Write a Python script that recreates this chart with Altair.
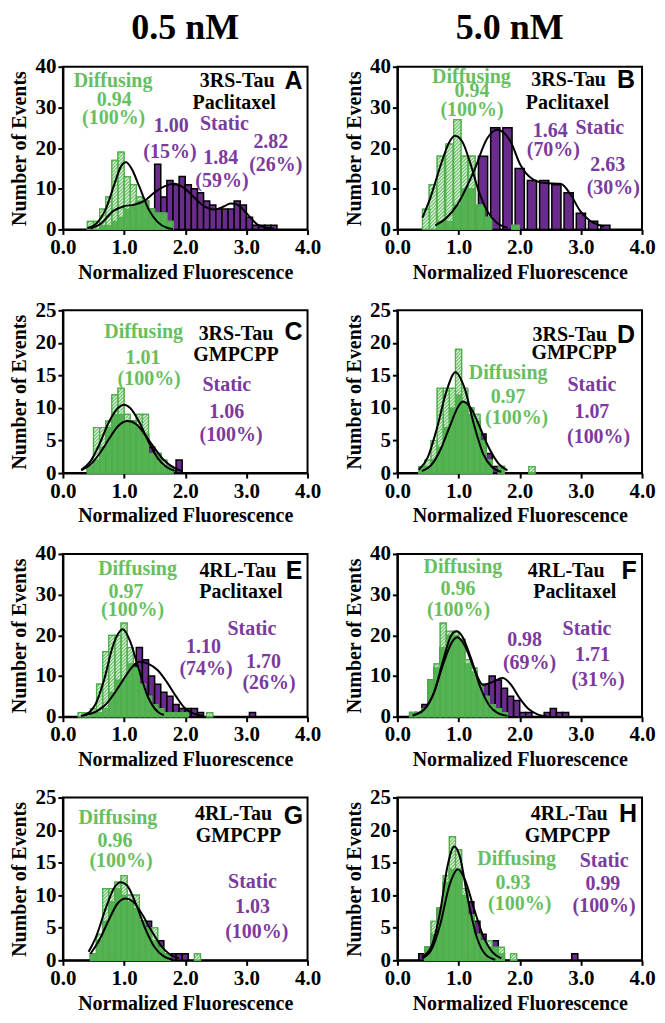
import altair as alt
import pandas as pd

# ---------------- data ----------------
# Panel A : 3RS-Tau, Paclitaxel, 0.5 nM
A_diff_x = [0.45, 0.55, 0.65, 0.75, 0.85, 0.95, 1.05, 1.15, 1.25, 1.35, 1.45, 1.55, 1.65, 1.75]
A_diff_n = [2, 2, 5, 8, 17, 19, 13, 11, 8, 7, 5, 4, 4, 2]
A_stat_x = [0.75, 0.85, 0.95, 1.05, 1.15, 1.25, 1.35, 1.45, 1.55, 1.65, 1.75, 1.85, 1.95, 2.05,
            2.15, 2.25, 2.35, 2.45, 2.55, 2.65, 2.75, 2.85, 2.95, 3.05, 3.15, 3.25, 3.35, 3.45]
A_stat_n = [1, 2, 3, 5, 6, 7, 7, 5, 16, 8, 12, 11, 13, 11, 10, 9, 7, 6, 5, 5, 5, 7, 6, 3, 1, 1, 1, 1]
A_fitd_x = [0.40, 0.55, 0.70, 0.85, 0.95, 1.03, 1.12, 1.25, 1.40, 1.55, 1.70, 1.80]
A_fitd_y = [0.3, 1.5, 5, 11.5, 15.5, 16.5, 15, 10.5, 5, 1.8, 0.4, 0.1]
A_fits_x = [0.45, 0.62, 0.82, 1.0, 1.17, 1.33, 1.49, 1.66, 1.82, 1.98, 2.15, 2.31, 2.47, 2.64,
            2.74, 2.85, 3.02, 3.18, 3.34, 3.45]
A_fits_y = [0.2, 1.4, 4.5, 5.7, 6.1, 7.0, 9.0, 10.6, 11.2, 10.2, 7.8, 5.7, 4.9, 5.7, 6.4, 6.1,
            3.7, 1.2, 0.4, 0.2]

# Panel B : 3RS-Tau, Paclitaxel, 5.0 nM
B_diff_x = [0.47, 0.58, 0.71, 0.85, 0.98, 1.10, 1.21, 1.36, 1.48, 1.93]
B_diff_n = [5, 11, 18, 21, 27, 18, 18, 6, 3, 1]
B_stat_x = [0.8, 1.0, 1.2, 1.4, 1.6, 1.8, 2.0, 2.2, 2.4, 2.6, 2.8, 3.0, 3.2, 3.4]
B_stat_n = [2, 6, 10, 18, 25, 25, 15, 12, 12, 11, 9, 4, 2, 1]
B_fitd_x = [0.41, 0.54, 0.71, 0.84, 0.94, 1.06, 1.20, 1.33, 1.47, 1.63, 1.80]
B_fitd_y = [2.9, 7.8, 15.9, 21.2, 23, 21.6, 15.9, 9.4, 4.5, 1.6, 0.4]
B_fits_x = [0.62, 0.80, 0.98, 1.25, 1.47, 1.63, 1.85, 2.01, 2.18, 2.40, 2.67, 2.83, 2.99, 3.16, 3.38]
B_fits_y = [1, 2.8, 6.1, 14.3, 22.4, 24.5, 21.6, 15.9, 12.7, 11.4, 11.2, 8.6, 4.5, 2, 0.7]

# Panel C : 3RS-Tau, GMPCPP, 0.5 nM
C_diff_x = [0.45, 0.55, 0.65, 0.75, 0.85, 0.95, 1.05, 1.15, 1.25, 1.35, 1.45, 1.55, 1.65, 1.75]
C_diff_n = [1, 7, 7, 8, 12, 13, 9, 8, 9, 9, 3, 3, 2, 1]
C_stat_x = [0.45, 0.55, 0.65, 0.75, 0.85, 0.95, 1.05, 1.15, 1.25, 1.35, 1.45, 1.55, 1.65, 1.75, 1.90]
C_stat_n = [1, 2, 4, 7, 9, 9, 8, 8, 7, 6, 4, 3, 1, 1, 2]
C_fitd_x = [0.30, 0.45, 0.60, 0.75, 0.90, 1.00, 1.10, 1.25, 1.40, 1.55, 1.70, 1.85]
C_fitd_y = [0.5, 1.8, 4.5, 7.8, 10, 10.5, 10, 7.8, 4.8, 2.3, 0.9, 0.3]
C_fits_x = [0.30, 0.45, 0.60, 0.75, 0.90, 1.06, 1.20, 1.35, 1.50, 1.65, 1.80, 1.95]
C_fits_y = [0.4, 1.3, 3, 5.2, 7.2, 8, 7.5, 5.8, 3.8, 2, 0.9, 0.3]

# Panel D : 3RS-Tau, GMPCPP, 5.0 nM
D_diff_x = [0.4, 0.5, 0.6, 0.7, 0.8, 0.9, 1.0, 1.1, 1.2, 1.3, 1.4, 1.5, 1.7, 2.2]
D_diff_n = [1, 2, 5, 13, 13, 13, 19, 13, 10, 9, 5, 2, 1, 1]
D_stat_x = [0.5, 0.6, 0.7, 0.8, 0.9, 1.0, 1.1, 1.2, 1.3, 1.4, 1.5, 1.6, 1.7]
D_stat_n = [1, 2, 4, 7, 10, 12, 11, 9, 8, 6, 3, 1, 1]
D_fitd_x = [0.35, 0.50, 0.65, 0.80, 0.95, 1.10, 1.25, 1.40, 1.55, 1.70]
D_fitd_y = [0.5, 2.5, 7, 12.5, 15.5, 13, 7.5, 3, 0.9, 0.2]
D_fits_x = [0.40, 0.55, 0.70, 0.85, 1.00, 1.07, 1.20, 1.35, 1.50, 1.65, 1.80]
D_fits_y = [0.3, 1.2, 3.5, 7, 10.3, 11, 10, 7, 3.8, 1.5, 0.4]

# Panel E : 4RL-Tau, Paclitaxel, 0.5 nM
E_diff_x = [0.3, 0.4, 0.5, 0.6, 0.7, 0.8, 0.9, 1.0, 1.1, 1.2, 1.3, 1.4, 1.5, 1.6, 1.7, 1.8, 1.9, 2.0, 2.4]
E_diff_n = [1, 1, 2, 8, 16, 20, 20, 23, 17, 12, 8, 5, 3, 2, 1, 1, 1, 1, 1]
E_stat_x = [0.55, 0.65, 0.75, 0.85, 0.95, 1.05, 1.15, 1.25, 1.35, 1.45, 1.55, 1.65, 1.75, 1.85,
            1.95, 2.05, 2.15, 2.25, 3.10]
E_stat_n = [1, 2, 4, 6, 9, 11, 13, 17, 14, 10, 8, 6, 5, 3, 2, 2, 2, 1, 1]
E_fitd_x = [0.30, 0.41, 0.54, 0.68, 0.82, 0.98, 1.10, 1.22, 1.39, 1.55, 1.65]
E_fitd_y = [0.2, 0.8, 3.3, 9.4, 17.5, 21.5, 18.5, 12.7, 4.9, 1.2, 0.4]
E_fits_x = [0.30, 0.57, 0.70, 0.84, 1.00, 1.12, 1.25, 1.40, 1.55, 1.70, 1.85, 2.00, 2.15, 2.30]
E_fits_y = [0.2, 1.5, 3, 5.7, 9.4, 12, 13.5, 13, 11.4, 8.5, 5, 2, 0.7, 0.2]

# Panel F : 4RL-Tau, Paclitaxel, 5.0 nM
F_diff_x = [0.25, 0.35, 0.45, 0.55, 0.65, 0.75, 0.85, 0.95, 1.05, 1.15, 1.25, 1.35, 1.45, 1.55, 1.65, 1.75]
F_diff_n = [1, 1, 2, 9, 13, 23, 21, 21, 19, 14, 12, 8, 5, 3, 2, 1]
F_stat_x = [0.25, 0.35, 0.45, 0.55, 0.65, 0.75, 0.85, 0.95, 1.05, 1.15, 1.25, 1.35, 1.45, 1.55,
            1.65, 1.75, 1.85, 1.95, 2.05, 2.15, 2.45, 2.55, 2.65, 2.75]
F_stat_n = [1, 1, 3, 9, 12, 17, 20, 20, 19, 13, 11, 8, 8, 10, 9, 7, 5, 4, 1, 1, 1, 2, 1, 1]
F_fitd_x = [0.25, 0.45, 0.60, 0.75, 0.88, 0.96, 1.05, 1.20, 1.35, 1.50, 1.65, 1.80]
F_fitd_y = [0.3, 2, 6, 14, 20, 21, 20, 14.5, 7.5, 2.8, 0.8, 0.2]
F_fits_x = [0.25, 0.45, 0.60, 0.75, 0.90, 0.98, 1.10, 1.25, 1.40, 1.55, 1.72, 1.85, 2.00, 2.15, 2.30, 2.45]
F_fits_y = [0.3, 2, 6, 13, 18.5, 19.5, 17.5, 12, 7.8, 8.5, 9.5, 8, 4.5, 1.8, 0.5, 0.1]

# Panel G : 4RL-Tau, GMPCPP, 0.5 nM
G_diff_x = [0.5, 0.6, 0.7, 0.8, 0.9, 1.0, 1.1, 1.2, 1.3, 1.4, 1.5, 1.6, 1.7, 2.2]
G_diff_n = [1, 4, 11, 11, 12, 13, 10, 10, 6, 5, 5, 2, 1, 1]
G_stat_x = [0.5, 0.6, 0.7, 0.8, 0.9, 1.0, 1.1, 1.2, 1.3, 1.4, 1.5, 1.6, 1.7, 1.8, 1.9, 2.0]
G_stat_n = [1, 3, 6, 9, 11, 10, 9, 8, 6, 6, 3, 3, 1, 1, 1, 1]
G_fitd_x = [0.42, 0.55, 0.70, 0.85, 0.95, 1.05, 1.20, 1.35, 1.50, 1.65, 1.80]
G_fitd_y = [1.3, 3.8, 8, 11.3, 12, 11.5, 8.5, 4.8, 2, 0.6, 0.1]
G_fits_x = [0.45, 0.60, 0.75, 0.90, 1.03, 1.15, 1.30, 1.45, 1.60, 1.75, 1.90]
G_fits_y = [1, 3.2, 6.2, 8.8, 9.5, 9, 7, 4.5, 2.3, 0.9, 0.3]

# Panel H : 4RL-Tau, GMPCPP, 5.0 nM
H_diff_x = [0.5, 0.6, 0.7, 0.8, 0.9, 1.0, 1.1, 1.2, 1.3, 1.4, 1.5, 1.6, 1.7, 1.9]
H_diff_n = [2, 6, 8, 13, 19, 17, 11, 7, 4, 3, 3, 2, 2, 1]
H_stat_x = [0.4, 0.5, 0.6, 0.7, 0.8, 0.9, 1.0, 1.1, 1.2, 1.3, 1.4, 1.5, 1.6, 1.7, 2.9]
H_stat_n = [1, 2, 4, 8, 12, 14, 14, 10, 9, 6, 4, 2, 3, 1, 1]
H_fitd_x = [0.40, 0.55, 0.70, 0.82, 0.93, 1.02, 1.15, 1.30, 1.45, 1.60]
H_fitd_y = [0.5, 2, 7.5, 14.5, 17.5, 16, 9.5, 3.5, 0.8, 0.1]
H_fits_x = [0.40, 0.55, 0.70, 0.85, 0.99, 1.10, 1.25, 1.40, 1.55, 1.70]
H_fits_y = [0.3, 1.5, 5.5, 11.5, 14, 12.5, 8, 3.8, 1.3, 0.3]

# annotation texts: (text, role)  role d=diffusing, s=static, k=condition, L=panel letter
A_text = [("Diffusing", "d"), ("0.94", "d"), ("(100%)", "d"), ("3RS-Tau", "k"), ("Paclitaxel", "k"),
          ("A", "L"), ("Static", "s"), ("1.00", "s"), ("(15%)", "s"), ("1.84", "s"), ("(59%)", "s"),
          ("2.82", "s"), ("(26%)", "s")]
B_text = [("Diffusing", "d"), ("0.94", "d"), ("(100%)", "d"), ("3RS-Tau", "k"), ("Paclitaxel", "k"),
          ("B", "L"), ("Static", "s"), ("1.64", "s"), ("(70%)", "s"), ("2.63", "s"), ("(30%)", "s")]
C_text = [("Diffusing", "d"), ("1.01", "d"), ("(100%)", "d"), ("3RS-Tau", "k"), ("GMPCPP", "k"),
          ("C", "L"), ("Static", "s"), ("1.06", "s"), ("(100%)", "s")]
D_text = [("3RS-Tau", "k"), ("GMPCPP", "k"), ("D", "L"), ("Diffusing", "d"), ("0.97", "d"),
          ("(100%)", "d"), ("Static", "s"), ("1.07", "s"), ("(100%)", "s")]
E_text = [("Diffusing", "d"), ("0.97", "d"), ("(100%)", "d"), ("4RL-Tau", "k"), ("Paclitaxel", "k"),
          ("E", "L"), ("Static", "s"), ("1.10", "s"), ("(74%)", "s"), ("1.70", "s"), ("(26%)", "s")]
F_text = [("Diffusing", "d"), ("0.96", "d"), ("(100%)", "d"), ("4RL-Tau", "k"), ("Paclitaxel", "k"),
          ("F", "L"), ("Static", "s"), ("0.98", "s"), ("(69%)", "s"), ("1.71", "s"), ("(31%)", "s")]
G_text = [("Diffusing", "d"), ("0.96", "d"), ("(100%)", "d"), ("4RL-Tau", "k"), ("GMPCPP", "k"),
          ("G", "L"), ("Static", "s"), ("1.03", "s"), ("(100%)", "s")]
H_text = [("4RL-Tau", "k"), ("GMPCPP", "k"), ("H", "L"), ("Diffusing", "d"), ("0.93", "d"),
          ("(100%)", "d"), ("Static", "s"), ("0.99", "s"), ("(100%)", "s")]

# annotation positions in data units (x, count), same order as the texts above
A_pos = [(0.82, 36.5), (0.84, 31.8), (0.83, 27.3), (2.85, 36.5), (2.8, 31.0), (3.77, 36.5),
         (2.64, 25.8), (1.77, 25.3), (1.75, 19.1), (2.58, 17.5), (2.6, 11.8), (3.4, 21.6), (3.48, 15.9)]
B_pos = [(1.21, 37.5), (1.22, 33.9), (1.22, 29.4), (2.8, 36.7), (2.78, 31.0), (3.74, 36.7),
         (3.31, 24.9), (2.5, 24.1), (2.55, 19.6), (3.44, 15.9), (3.53, 10.2)]
C_pos = [(1.32, 21.7), (1.31, 17.6), (1.41, 14.5), (2.83, 21.4), (2.83, 18.1), (3.77, 21.7),
         (2.68, 13.5), (2.68, 9.4), (2.75, 5.9)]
D_pos = [(2.82, 21.2), (2.89, 18.4), (3.74, 21.2), (1.81, 15.3), (1.81, 11.7), (1.95, 8.4),
         (3.18, 13.5), (3.18, 9.4), (3.29, 5.6)]
E_pos = [(1.22, 36.3), (1.03, 30.6), (1.14, 26.1), (2.86, 35.9), (2.91, 30.6), (3.78, 35.9),
         (3.09, 21.6), (2.3, 17.1), (2.34, 11.8), (3.28, 13.5), (3.37, 8.2)]
F_pos = [(1.07, 36.7), (0.99, 31.4), (1.0, 26.1), (2.76, 35.9), (2.9, 30.6), (3.79, 35.9),
         (3.1, 21.6), (2.08, 18.8), (2.16, 13.1), (3.19, 15.1), (3.28, 9.0)]
G_pos = [(0.9, 21.9), (0.85, 18.4), (0.95, 15.3), (2.79, 22.4), (2.87, 19.1), (3.77, 22.2),
         (3.1, 12.0), (3.1, 8.2), (3.17, 4.3)]
H_pos = [(2.81, 22.5), (2.78, 19.1), (3.77, 22.5), (1.95, 15.5), (1.89, 11.9), (2.0, 8.6),
         (3.38, 15.3), (3.36, 11.7), (3.38, 8.4)]

X_TICKS = [0, 1, 2, 3, 4]
Y_TICKS_40 = [0, 10, 20, 30, 40]
Y_TICKS_25 = [0, 5, 10, 15, 20, 25]
COLUMN_TITLES = ["0.5 nM", "5.0 nM"]

# ---------------- styles ----------------
GREEN_FILL = "#72c46e"
GREEN_LINE = "#4fae4c"
GREEN_SOLID = "#55b353"
GREEN_TEXT = "#67bf5f"
PURPLE = "#6a2c8c"
PURPLE_TEXT = "#7b3a9e"
SERIF = "Liberation Serif"
SANS = "Liberation Sans"
W, H = 245, 163
XMAX = 4.0
HATCH_STEP = 3.4  # px between hatch lines


def bar_frame(xs, ns, w):
    return pd.DataFrame({"x0": [x - w / 2 for x in xs], "x1": [x + w / 2 for x in xs], "n": ns})


def overlap_values(dx, dn, sx, sn):
    out = []
    for x, n in zip(dx, dn):
        best, dist = 0, 1e9
        for s, m in zip(sx, sn):
            d = abs(s - x)
            if d <= 0.1 and d < dist:
                best, dist = m, d
        out.append(min(n, best))
    return out


def hatch_frame(dx, dn, w, ymax):
    """45-degree white hatch segments inside each diffusing bar (derived from the bars)."""
    kx = W / XMAX
    ky = H / ymax
    rows = []
    for x, n in zip(dx, dn):
        wpx, hpx = w * kx, n * ky
        c = -wpx
        while c < hpx:
            p0 = max(0.0, -c)
            p1 = min(wpx, hpx - c)
            if p1 > p0:
                rows.append({"xa": x - w / 2 + p0 / kx, "ya": (p0 + c) / ky,
                             "xb": x - w / 2 + p1 / kx, "yb": (p1 + c) / ky})
            c += HATCH_STEP
    return pd.DataFrame(rows)


def panel(ymax, yticks, dx, dn, dw, sx, sn, sw, fdx, fdy, fsx, fsy, texts, pos,
          coltitle=None, title_dx=0):
    xs = alt.Scale(domain=[0, XMAX], nice=False)
    ys = alt.Scale(domain=[0, ymax], nice=False)
    xax = alt.Axis(values=X_TICKS, format=".1f", title="Normalized Fluorescence")
    yax = alt.Axis(values=yticks, format="d", title="Number of Events")

    def enc_bar():
        return dict(x=alt.X("x0:Q", scale=xs, axis=xax), x2="x1:Q",
                    y=alt.Y("n:Q", scale=ys, axis=yax), y2=alt.datum(0))

    stat = alt.Chart(bar_frame(sx, sn, sw)).mark_bar(
        fill=PURPLE, stroke="black", strokeWidth=1.5).encode(**enc_bar())
    hatch = alt.Chart(bar_frame(dx, dn, dw)).mark_bar(
        fill=GREEN_FILL, stroke=GREEN_LINE, strokeWidth=1.2).encode(**enc_bar())
    lines = alt.Chart(hatch_frame(dx, dn, dw, ymax)).mark_rule(
        color="white", strokeWidth=1.1, opacity=0.85).encode(
        x=alt.X("xa:Q", scale=xs, axis=xax), y=alt.Y("ya:Q", scale=ys, axis=yax),
        x2="xb:Q", y2="yb:Q")
    solid = alt.Chart(bar_frame(dx, overlap_values(dx, dn, sx, sn), dw)).mark_bar(
        fill=GREEN_SOLID, stroke=GREEN_LINE, strokeWidth=1).encode(**enc_bar())
    outline = alt.Chart(bar_frame(dx, dn, dw)).mark_bar(
        fill=None, fillOpacity=0, stroke=GREEN_LINE, strokeWidth=1.2).encode(**enc_bar())

    def line(x, y):
        return alt.Chart(pd.DataFrame({"x": x, "y": y})).mark_line(
            color="black", strokeWidth=2, interpolate="monotone").encode(
            x=alt.X("x:Q", scale=xs, axis=xax), y=alt.Y("y:Q", scale=ys, axis=yax))

    layers = [stat, hatch, lines, solid, outline, line(fdx, fdy), line(fsx, fsy)]

    tdf = pd.DataFrame({"t": [t for t, _ in texts], "r": [r for _, r in texts],
                        "x": [p[0] for p in pos], "y": [p[1] for p in pos]})
    styles = {"d": (GREEN_TEXT, SERIF, 20), "s": (PURPLE_TEXT, SERIF, 20),
              "k": ("black", SERIF, 20), "L": ("black", SANS, 25)}
    for role, (col, font, size) in styles.items():
        sub = tdf[tdf.r == role]
        if len(sub) == 0:
            continue
        layers.append(alt.Chart(sub).mark_text(
            color=col, font=font, fontWeight="bold", fontSize=size,
            align="center", baseline="middle").encode(
            x=alt.X("x:Q", scale=xs, axis=xax), y=alt.Y("y:Q", scale=ys, axis=yax), text="t:N"))

    if coltitle is not None:
        layers.append(alt.Chart(pd.DataFrame({"t": [coltitle]})).mark_text(
            font=SERIF, fontWeight="bold", fontSize=36, align="center",
            baseline="alphabetic", color="black").encode(
            x=alt.value(W / 2 + title_dx), y=alt.value(-28), text="t:N"))

    return alt.layer(*layers).properties(width=W, height=H)


pA = panel(40, Y_TICKS_40, A_diff_x, A_diff_n, 0.1, A_stat_x, A_stat_n, 0.1,
           A_fitd_x, A_fitd_y, A_fits_x, A_fits_y, A_text, A_pos, COLUMN_TITLES[0], 0)
pB = panel(40, Y_TICKS_40, B_diff_x, B_diff_n, 0.12, B_stat_x, B_stat_n, 0.15,
           B_fitd_x, B_fitd_y, B_fits_x, B_fits_y, B_text, B_pos, COLUMN_TITLES[1], -10)
pC = panel(25, Y_TICKS_25, C_diff_x, C_diff_n, 0.1, C_stat_x, C_stat_n, 0.1,
           C_fitd_x, C_fitd_y, C_fits_x, C_fits_y, C_text, C_pos)
pD = panel(25, Y_TICKS_25, D_diff_x, D_diff_n, 0.1, D_stat_x, D_stat_n, 0.1,
           D_fitd_x, D_fitd_y, D_fits_x, D_fits_y, D_text, D_pos)
pE = panel(40, Y_TICKS_40, E_diff_x, E_diff_n, 0.1, E_stat_x, E_stat_n, 0.1,
           E_fitd_x, E_fitd_y, E_fits_x, E_fits_y, E_text, E_pos)
pF = panel(40, Y_TICKS_40, F_diff_x, F_diff_n, 0.1, F_stat_x, F_stat_n, 0.1,
           F_fitd_x, F_fitd_y, F_fits_x, F_fits_y, F_text, F_pos)
pG = panel(25, Y_TICKS_25, G_diff_x, G_diff_n, 0.1, G_stat_x, G_stat_n, 0.1,
           G_fitd_x, G_fitd_y, G_fits_x, G_fits_y, G_text, G_pos)
pH = panel(25, Y_TICKS_25, H_diff_x, H_diff_n, 0.1, H_stat_x, H_stat_n, 0.1,
           H_fitd_x, H_fitd_y, H_fits_x, H_fits_y, H_text, H_pos)

chart = alt.concat(pA, pB, pC, pD, pE, pF, pG, pH, columns=2,
                   spacing=alt.RowColnumber(row=81, column=90), bounds="flush").properties(
    padding={"left": 0, "top": 0, "right": 0, "bottom": 0}
).configure_view(stroke="black", strokeWidth=2).configure_axis(
    grid=False, domainColor="black", domainWidth=2, tickColor="black", tickWidth=2,
    tickSize=5, labelFont=SERIF, labelFontWeight="bold", labelFontSize=21,
    labelColor="black", labelPadding=2, titleFont=SERIF, titleFontWeight="bold",
    titleFontSize=20, titleColor="black", titlePadding=5
).configure_axisX(labelFlush=False)

chart.save("out.html", embed_options={"renderer": "svg", "actions": False})
